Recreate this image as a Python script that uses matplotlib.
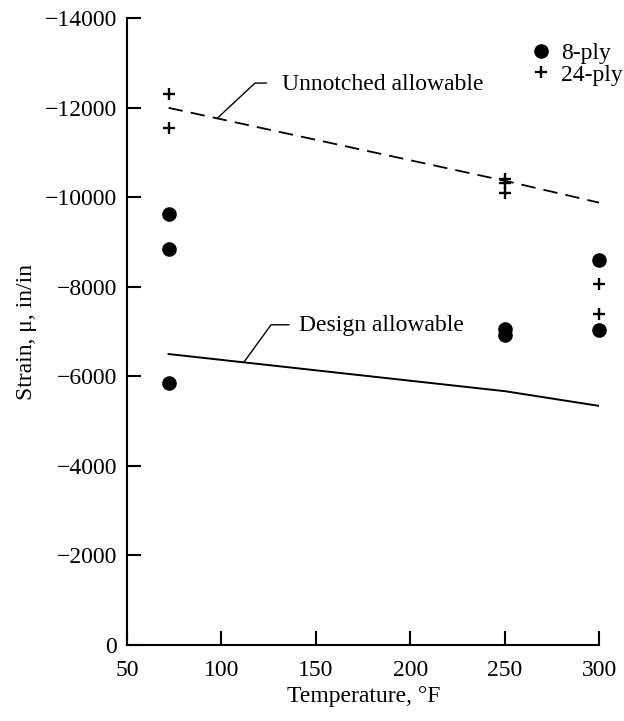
import numpy as np
import matplotlib
matplotlib.use('Agg')
from matplotlib import pyplot as plt
from matplotlib.lines import Line2D

plt.rcParams['font.family'] = ['Liberation Serif', 'DejaVu Serif']
plt.rcParams['font.size'] = 17

# Messpunkte
temp_8ply = [72, 72, 72, 250, 250, 300, 300]
strain_8ply = [-9630, -8840, -5850, -7050, -6920, -8600, -7040]

temp_24ply = [72, 72, 250, 250, 250, 300, 300]
strain_24ply = [-12300, -11550, -10400, -10310, -10100, -8060, -7400]

# Grenzkurven
unnotched_temp = [72, 250, 300]
unnotched_strain = [-12000, -10370, -9880]

design_temp = [72, 250, 300]
design_strain = [-6500, -5670, -5340]

x_ticks = [50, 100, 150, 200, 250, 300]
y_ticks = [0, -2000, -4000, -6000, -8000, -10000, -12000, -14000]

fig = plt.figure(figsize=(6.24, 7.21), dpi=100)
ax = fig.add_axes([0.2035, 0.1054, 0.7572, 0.8692])

ax.plot(unnotched_temp, unnotched_strain, color='black', lw=1.3, dashes=(8, 4.5))
ax.plot(design_temp, design_strain, color='black', lw=1.4)

ax.plot(temp_8ply, strain_8ply, 'o', color='black', ms=9.5, ls='none', clip_on=False)
ax.plot(temp_24ply, strain_24ply, '+', color='black', ms=9, mew=1.7, ls='none', clip_on=False)

ax.set_xlim(50, 300)
ax.set_ylim(0, -14000)
ax.set_xticks(x_ticks)
ax.set_yticks(y_ticks)

for s in ['top', 'right']:
    ax.spines[s].set_visible(False)
for s in ['left', 'bottom']:
    ax.spines[s].set_linewidth(1.5)

ax.tick_params(direction='in', length=10, width=1.5)
ax.tick_params(axis='x', pad=10.5)
ax.tick_params(axis='y', pad=7)

ax.set_xlabel('Temperature, °F', labelpad=4)
ax.set_ylabel('Strain, μ, in/in', labelpad=6)

# Beschriftungen mit Hinweislinie
x_un = 97.7
ax.annotate('Unnotched allowable',
            xy=(x_un, np.interp(x_un, unnotched_temp, unnotched_strain)),
            xytext=(46.6, 20.7), textcoords='offset points',
            ha='left', va='baseline',
            arrowprops=dict(arrowstyle='-', color='black', lw=1.0,
                            connectionstyle='angle,angleA=0,angleB=43,rad=0',
                            relpos=(0, 0.55), shrinkA=9, shrinkB=0))

x_de = 111.8
ax.annotate('Design allowable',
            xy=(x_de, np.interp(x_de, design_temp, design_strain)),
            xytext=(39.6, 22.3), textcoords='offset points',
            ha='left', va='baseline',
            arrowprops=dict(arrowstyle='-', color='black', lw=1.0,
                            connectionstyle='angle,angleA=0,angleB=54,rad=0',
                            relpos=(0, 0.55), shrinkA=5, shrinkB=0))

handles = [Line2D([], [], marker='o', color='black', ls='none', ms=9.5),
           Line2D([], [], marker='+', color='black', ls='none', ms=9, mew=1.7)]
ax.legend(handles, ['8-ply', '24-ply'], loc='upper left',
          bbox_to_anchor=(0.856, 0.9613), frameon=False,
          borderpad=0, borderaxespad=0, handlelength=0.8,
          handletextpad=0.45, labelspacing=0.0)

fig.savefig('out.png', dpi=100)
